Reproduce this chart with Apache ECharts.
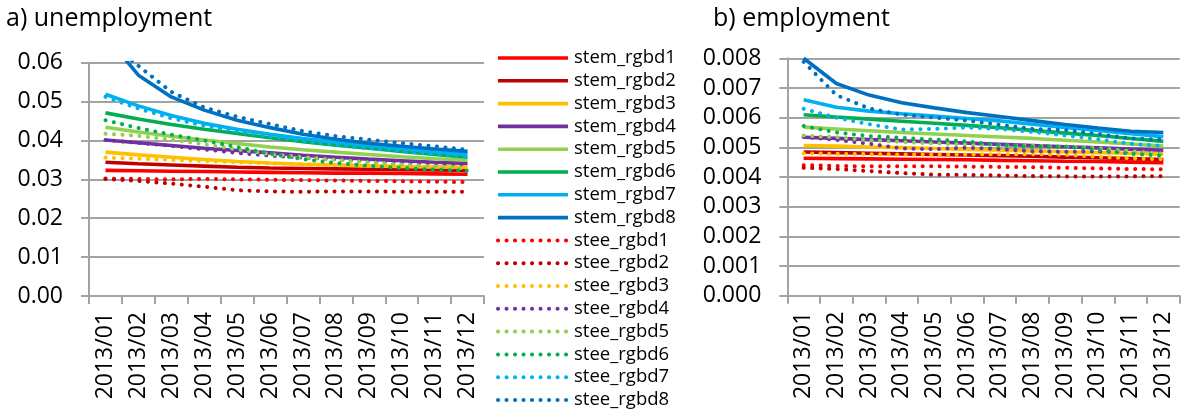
<!DOCTYPE html>
<html>
<head>
<meta charset="utf-8">
<script src="https://cdn.jsdelivr.net/npm/echarts@6/dist/echarts.min.js"></script>
<style>
  html, body { margin: 0; padding: 0; background: #fff; }
  #chart { width: 1182px; height: 413px; }
</style>
</head>
<body>
<div id="chart"></div>
<script>
// Months on the horizontal axis
const categories = ['2013/01', '2013/02', '2013/03', '2013/04', '2013/05', '2013/06',
                    '2013/07', '2013/08', '2013/09', '2013/10', '2013/11', '2013/12'];

// a) unemployment — stem_* (solid) series
const uStem1 = [0.0323, 0.0322, 0.0321, 0.0320, 0.0319, 0.0318, 0.0317, 0.0316, 0.0316, 0.0315, 0.0314, 0.0313];
const uStem2 = [0.0344, 0.0340, 0.0337, 0.0334, 0.0331, 0.0329, 0.0328, 0.0327, 0.0326, 0.0325, 0.0324, 0.0323];
const uStem3 = [0.0370, 0.0363, 0.0357, 0.0351, 0.0346, 0.0342, 0.0339, 0.0337, 0.0335, 0.0333, 0.0332, 0.0331];
const uStem4 = [0.0401, 0.0394, 0.0387, 0.0380, 0.0374, 0.0368, 0.0362, 0.0357, 0.0352, 0.0348, 0.0344, 0.0341];
const uStem5 = [0.0434, 0.0422, 0.0411, 0.0401, 0.0392, 0.0383, 0.0376, 0.0370, 0.0364, 0.0358, 0.0353, 0.0349];
const uStem6 = [0.0471, 0.0455, 0.0441, 0.0429, 0.0418, 0.0407, 0.0397, 0.0388, 0.0380, 0.0372, 0.0364, 0.0357];
const uStem7 = [0.0519, 0.0489, 0.0464, 0.0444, 0.0429, 0.0416, 0.0405, 0.0396, 0.0387, 0.0379, 0.0371, 0.0364];
const uStem8 = [0.0670, 0.0568, 0.0512, 0.0478, 0.0452, 0.0433, 0.0416, 0.0403, 0.0393, 0.0385, 0.0378, 0.0372];

// a) unemployment — stee_* (dotted) series
const uStee1 = [0.0302, 0.0301, 0.0300, 0.0301, 0.0300, 0.0299, 0.0298, 0.0297, 0.0296, 0.0295, 0.0294, 0.0293];
const uStee2 = [0.0301, 0.0296, 0.0289, 0.0281, 0.0272, 0.0269, 0.0268, 0.0269, 0.0269, 0.0268, 0.0268, 0.0268];
const uStee3 = [0.0356, 0.0353, 0.0350, 0.0347, 0.0344, 0.0341, 0.0339, 0.0337, 0.0335, 0.0334, 0.0333, 0.0332];
const uStee4 = [0.0401, 0.0394, 0.0386, 0.0377, 0.0368, 0.0361, 0.0356, 0.0352, 0.0348, 0.0344, 0.0341, 0.0339];
const uStee5 = [0.0417, 0.0412, 0.0402, 0.0390, 0.0377, 0.0365, 0.0357, 0.0350, 0.0344, 0.0338, 0.0333, 0.0328];
const uStee6 = [0.0452, 0.0432, 0.0415, 0.0400, 0.0383, 0.0366, 0.0352, 0.0342, 0.0335, 0.0329, 0.0325, 0.0322];
const uStee7 = [0.0512, 0.0482, 0.0457, 0.0438, 0.0423, 0.0410, 0.0399, 0.0389, 0.0380, 0.0372, 0.0365, 0.0358];
const uStee8 = [0.0660, 0.0592, 0.0525, 0.0485, 0.0461, 0.0442, 0.0424, 0.0411, 0.0402, 0.0393, 0.0385, 0.0376];

// b) employment — stem_* (solid) series
const eStem1 = [0.00463, 0.00462, 0.00461, 0.00460, 0.00459, 0.00458, 0.00456, 0.00455, 0.00453, 0.00452, 0.00450, 0.00448];
const eStem2 = [0.00484, 0.00482, 0.00480, 0.00478, 0.00476, 0.00474, 0.00472, 0.00470, 0.00467, 0.00465, 0.00462, 0.00459];
const eStem3 = [0.00506, 0.00504, 0.00501, 0.00499, 0.00496, 0.00493, 0.00490, 0.00488, 0.00485, 0.00482, 0.00480, 0.00477];
const eStem4 = [0.00534, 0.00530, 0.00526, 0.00522, 0.00518, 0.00514, 0.00510, 0.00506, 0.00502, 0.00498, 0.00494, 0.00490];
const eStem5 = [0.00568, 0.00562, 0.00556, 0.00550, 0.00545, 0.00540, 0.00535, 0.00530, 0.00524, 0.00518, 0.00511, 0.00504];
const eStem6 = [0.00610, 0.00602, 0.00595, 0.00588, 0.00581, 0.00574, 0.00566, 0.00557, 0.00548, 0.00540, 0.00530, 0.00520];
const eStem7 = [0.00660, 0.00635, 0.00622, 0.00613, 0.00605, 0.00597, 0.00589, 0.00578, 0.00567, 0.00557, 0.00546, 0.00536];
const eStem8 = [0.00800, 0.00715, 0.00676, 0.00650, 0.00633, 0.00617, 0.00604, 0.00590, 0.00577, 0.00565, 0.00554, 0.00550];

// b) employment — stee_* (dotted) series
const eStee1 = [0.00440, 0.00437, 0.00436, 0.00436, 0.00436, 0.00435, 0.00434, 0.00433, 0.00431, 0.00429, 0.00427, 0.00426];
const eStee2 = [0.00431, 0.00427, 0.00420, 0.00413, 0.00408, 0.00407, 0.00405, 0.00403, 0.00402, 0.00402, 0.00402, 0.00403];
const eStee3 = [0.00480, 0.00478, 0.00477, 0.00476, 0.00476, 0.00476, 0.00477, 0.00477, 0.00475, 0.00468, 0.00463, 0.00460];
const eStee4 = [0.00535, 0.00525, 0.00512, 0.00496, 0.00494, 0.00499, 0.00494, 0.00487, 0.00485, 0.00486, 0.00484, 0.00484];
const eStee5 = [0.00540, 0.00534, 0.00524, 0.00518, 0.00513, 0.00510, 0.00507, 0.00505, 0.00503, 0.00497, 0.00487, 0.00478];
const eStee6 = [0.00572, 0.00550, 0.00538, 0.00532, 0.00526, 0.00520, 0.00508, 0.00502, 0.00502, 0.00492, 0.00478, 0.00472];
const eStee7 = [0.00630, 0.00600, 0.00578, 0.00560, 0.00562, 0.00567, 0.00562, 0.00552, 0.00540, 0.00527, 0.00512, 0.00505];
const eStee8 = [0.00788, 0.00676, 0.00631, 0.00610, 0.00600, 0.00590, 0.00576, 0.00562, 0.00558, 0.00545, 0.00530, 0.00526];

const stemNames = ['stem_rgbd1', 'stem_rgbd2', 'stem_rgbd3', 'stem_rgbd4', 'stem_rgbd5', 'stem_rgbd6', 'stem_rgbd7', 'stem_rgbd8'];
const steeNames = ['stee_rgbd1', 'stee_rgbd2', 'stee_rgbd3', 'stee_rgbd4', 'stee_rgbd5', 'stee_rgbd6', 'stee_rgbd7', 'stee_rgbd8'];
const palette = ['#FF0000', '#C00000', '#FFC000', '#7030A0', '#92D050', '#00B050', '#00B0F0', '#0070C0'];

const uStem = [uStem1, uStem2, uStem3, uStem4, uStem5, uStem6, uStem7, uStem8];
const uStee = [uStee1, uStee2, uStee3, uStee4, uStee5, uStee6, uStee7, uStee8];
const eStem = [eStem1, eStem2, eStem3, eStem4, eStem5, eStem6, eStem7, eStem8];
const eStee = [eStee1, eStee2, eStee3, eStee4, eStee5, eStee6, eStee7, eStee8];

const FONT = 'Open Sans';
const GRID_GREY = '#a3a3a3';
const SOLID = { width: 3.6, type: 'solid', cap: 'butt' };
const DOTTED = { width: 4, type: [0.1, 8.4], cap: 'round' };

function lineSeries(name, data, color, dotted, idx) {
  return {
    name: name,
    type: 'line',
    xAxisIndex: idx,
    yAxisIndex: idx,
    data: data,
    symbol: 'none',
    animation: false,
    z: dotted ? 3 : 2,
    lineStyle: Object.assign({ color: color }, dotted ? DOTTED : SOLID),
    itemStyle: { color: color }
  };
}

const series = [];
[[uStem, uStee, 0], [eStem, eStee, 1]].forEach(([stem, stee, idx]) => {
  stem.forEach((d, i) => series.push(lineSeries(stemNames[i], d, palette[i], false, idx)));
  stee.forEach((d, i) => series.push(lineSeries(steeNames[i], d, palette[i], true, idx)));
});

// Legend entries: line only, no marker
const legendData = stemNames.map((n, i) => ({
  name: n, itemStyle: { opacity: 0 },
  lineStyle: Object.assign({ color: palette[i] }, SOLID)
})).concat(steeNames.map((n, i) => ({
  name: n, itemStyle: { opacity: 0 },
  lineStyle: Object.assign({ color: palette[i] }, DOTTED)
})));

function xAxis(gridIndex) {
  return {
    type: 'category',
    gridIndex: gridIndex,
    data: categories,
    boundaryGap: true,
    axisLine: { lineStyle: { color: GRID_GREY, width: 2 } },
    axisTick: { show: true, length: 8, lineStyle: { color: GRID_GREY, width: 2 } },
    axisLabel: { rotate: 90, margin: 16, fontFamily: FONT, fontSize: 23, color: '#000', interval: 0 }
  };
}

function yAxis(gridIndex, max, interval, digits) {
  return {
    type: 'value',
    gridIndex: gridIndex,
    min: 0,
    max: max,
    interval: interval,
    axisLine: { show: true, lineStyle: { color: GRID_GREY, width: 2 } },
    axisTick: { show: true, length: 8, lineStyle: { color: GRID_GREY, width: 2 } },
    splitLine: { lineStyle: { color: GRID_GREY, width: 2 } },
    axisLabel: {
      margin: 26, fontFamily: FONT, fontSize: 23, color: '#000',
      formatter: v => v.toFixed(digits)
    }
  };
}

const chart = echarts.init(document.getElementById('chart'), null, { renderer: 'canvas' });
chart.setOption({
  animation: false,
  backgroundColor: '#fff',
  title: [
    { text: 'a) unemployment', left: 6, top: 6, padding: 0,
      textStyle: { fontFamily: FONT, fontSize: 25, fontWeight: 'normal', color: '#000' } },
    { text: 'b) employment', left: 713, top: 6, padding: 0,
      textStyle: { fontFamily: FONT, fontSize: 25, fontWeight: 'normal', color: '#000' } }
  ],
  legend: {
    orient: 'vertical',
    left: 496,
    top: 47,
    height: 380,
    padding: 0,
    itemWidth: 70,
    itemHeight: 14,
    itemGap: 0.8,
    selectedMode: false,
    data: legendData,
    textStyle: { fontFamily: FONT, fontSize: 18.5, color: '#000', lineHeight: 22, padding: [0, 0, 0, 1] }
  },
  grid: [
    { left: 89, top: 62.7, width: 395, height: 233.3 },
    { left: 787.3, top: 58.3, width: 392.4, height: 237.4 }
  ],
  xAxis: [xAxis(0), xAxis(1)],
  yAxis: [yAxis(0, 0.06, 0.01, 2), yAxis(1, 0.008, 0.001, 3)],
  series: series
});
</script>
</body>
</html>
